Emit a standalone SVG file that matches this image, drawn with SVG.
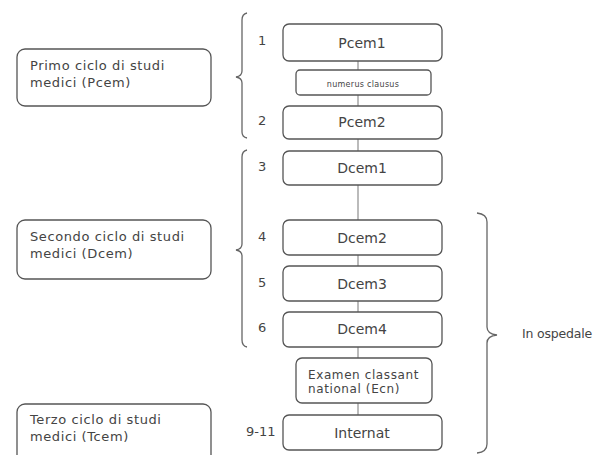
<svg xmlns="http://www.w3.org/2000/svg" width="602" height="455" viewBox="0 0 602 455">
<style>
.box{fill:#fff;stroke:#555;stroke-width:1.3}
.t{font-family:"DejaVu Sans",sans-serif;font-size:14px;fill:#444}
.l{font-size:13px;letter-spacing:0.6px}
.n{font-size:13px}
.c{text-anchor:middle}
.br{fill:none;stroke:#666;stroke-width:1.3}
.con{stroke:#bbb;stroke-width:2;fill:none}
</style>
<rect width="602" height="455" fill="#fff"/>
<g id="connectors">
<line class="con" x1="358" y1="61" x2="358" y2="415"/>
</g>
<g id="primo"><rect class="box" x="17" y="49" width="194" height="57" rx="8"/><text class="t l" x="30" y="70">Primo ciclo di studi</text><text class="t l" x="30" y="87">medici (Pcem)</text></g>
<g id="secondo"><rect class="box" x="17" y="220" width="194" height="59" rx="8"/><text class="t l" x="30" y="241">Secondo ciclo di studi</text><text class="t l" x="30" y="258">medici (Dcem)</text></g>
<g id="terzo"><rect class="box" x="17" y="404" width="194" height="62" rx="8"/><text class="t l" x="30" y="424">Terzo ciclo di studi</text><text class="t l" x="30" y="441">medici (Tcem)</text></g>
<g id="brace1"><path class="br" d="M247,13 Q242,14 242,20 L242,71 Q242,76 236,77 Q242,78 242,83 L242,132 Q242,137 247,138"/></g>
<g id="brace2"><path class="br" d="M247,150 Q242,151 242,157 L242,244 Q242,249 236,250 Q242,251 242,256 L242,340 Q242,346 247,347"/></g>
<g id="brace3"><path class="br" d="M477,213 Q487,214 487,222 L487,327 Q487,334 497,335 Q487,336 487,343 L487,444 Q487,452 477,453"/><text class="t" x="522" y="338" style="font-size:12.5px;letter-spacing:-0.2px">In ospedale</text></g>
<g id="pcem1"><rect class="box" x="283" y="24" width="159" height="37" rx="6"/><text class="t c" x="362" y="48">Pcem1</text><text class="t n" x="258" y="45">1</text></g>
<g id="nc"><rect class="box" x="296" y="70" width="135" height="25" rx="4"/><text class="t c" x="363" y="87" style="font-size:8px;letter-spacing:0.3px">numerus clausus</text></g>
<g id="pcem2"><rect class="box" x="283" y="106" width="159" height="33" rx="6"/><text class="t c" x="362" y="127">Pcem2</text><text class="t n" x="258" y="125">2</text></g>
<g id="dcem1"><rect class="box" x="283" y="151" width="159" height="34" rx="6"/><text class="t c" x="362" y="173">Dcem1</text><text class="t n" x="258" y="171">3</text></g>
<g id="dcem2"><rect class="box" x="283" y="220" width="159" height="35" rx="6"/><text class="t c" x="362" y="243">Dcem2</text><text class="t n" x="258" y="241">4</text></g>
<g id="dcem3"><rect class="box" x="283" y="266" width="159" height="35" rx="6"/><text class="t c" x="362" y="289">Dcem3</text><text class="t n" x="258" y="287">5</text></g>
<g id="dcem4"><rect class="box" x="283" y="312" width="159" height="35" rx="6"/><text class="t c" x="362" y="334">Dcem4</text><text class="t n" x="258" y="332">6</text></g>
<g id="ecn"><rect class="box" x="296" y="358" width="136" height="45" rx="6"/><text class="t" x="308" y="379" style="font-size:12px;letter-spacing:0.6px">Examen classant</text><text class="t" x="308" y="393" style="font-size:12px;letter-spacing:0.6px">national (Ecn)</text></g>
<g id="internat"><rect class="box" x="283" y="415" width="159" height="35" rx="6"/><text class="t c" x="362" y="438">Internat</text><text class="t n" x="246" y="436">9-11</text></g>
</svg>
